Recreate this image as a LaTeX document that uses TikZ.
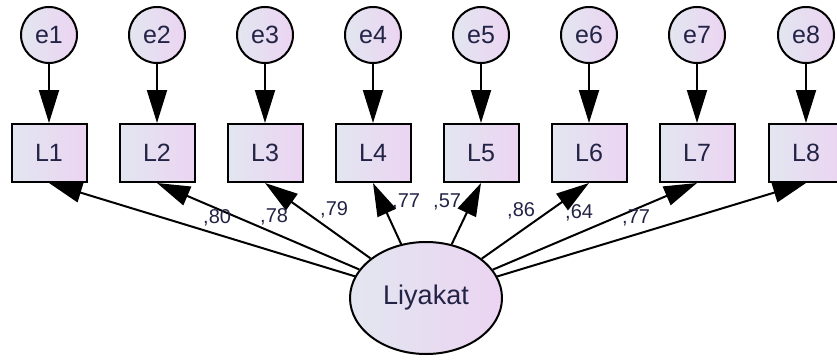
\documentclass[tikz,border=0pt]{standalone}
\usepackage{fontspec}
\setmainfont{Liberation Sans}
\usetikzlibrary{arrows.meta,shapes.geometric}
\definecolor{amosblue}{RGB}{226,230,240}
\definecolor{amospink}{RGB}{236,212,242}
\definecolor{amostext}{RGB}{35,35,70}
\tikzset{
  obsbox/.style={draw, line width=2pt, minimum width=75pt, minimum height=58pt,
    left color=amosblue, right color=amospink, text=amostext,
    font=\fontsize{25}{30}\selectfont},
  errcirc/.style={circle, draw, line width=2pt, minimum size=56pt, inner sep=0pt,
    left color=amosblue, right color=amospink, text=amostext,
    font=\fontsize{25}{30}\selectfont},
  latent/.style={ellipse, draw, line width=2pt, minimum width=152pt, minimum height=112pt,
    left color=amosblue, right color=amospink, text=amostext,
    font=\fontsize{27}{32}\selectfont},
  weight/.style={anchor=base west, inner sep=0pt, text=amostext,
    font=\fontsize{20}{24}\selectfont},
  path/.style={->, line width=2pt}
}

\begin{document}
\begin{tikzpicture}[x=1pt,y=1pt]
	\tikzset{>={Triangle[length=33pt,width=20pt]}}
	\useasboundingbox (0,0) rectangle (837,360);
	\node[latent] (F) at (426,62) {Liyakat};
	\foreach \i/\x in {1/49,2/157,3/265,4/373,5/481,6/589,7/697,8/806} {
		\node[errcirc] (e\i) at (\x,325) {e\i};
		\node[obsbox] (L\i) at (\x,207) {L\i};
		\draw[path] (e\i) -- (L\i);
		\draw[path] (F) -- (L\i.south);
	}
	% standardised loadings
	\node[weight] at (203,137) {,80};
	\node[weight] at (260,138) {,78};
	\node[weight] at (320,145) {,79};
	\node[weight] at (392,153) {,77};
	\node[weight] at (433,153) {,57};
	\node[weight] at (507,144) {,86};
	\node[weight] at (565,142) {,64};
	\node[weight] at (622,137) {,77};
\end{tikzpicture}
\end{document}
